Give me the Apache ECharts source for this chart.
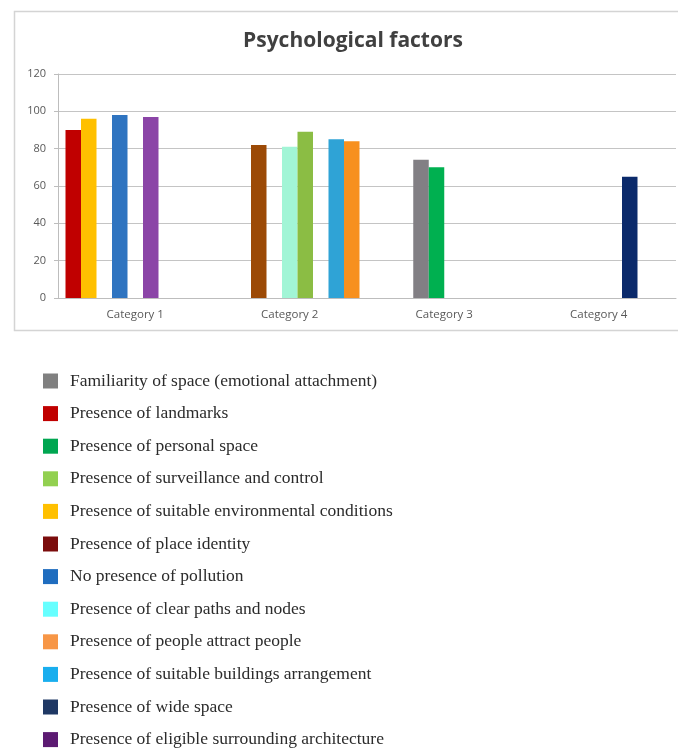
<!DOCTYPE html>
<html>
<head>
<meta charset="utf-8">
<title>Psychological factors</title>
<script src="https://cdn.jsdelivr.net/npm/echarts@6/dist/echarts.min.js"></script>
<style>
  html, body { margin: 0; padding: 0; background: #ffffff; }
  #chart { width: 678px; height: 749px; }
</style>
</head>
<body>
<div id="chart"></div>
<script>
// ---- data ----
const categories = ['Category 1', 'Category 2', 'Category 3', 'Category 4'];

const factors = [
  'Familiarity of space (emotional attachment)',
  'Presence of landmarks',
  'Presence of personal space',
  'Presence of surveillance and control',
  'Presence of suitable environmental conditions',
  'Presence of place identity',
  'No presence of pollution',
  'Presence of clear paths and nodes',
  'Presence of people attract people',
  'Presence of suitable buildings arrangement',
  'Presence of wide space',
  'Presence of eligible surrounding architecture'
];

// score of each factor, and the category it is reported under (index into categories)
const factorValues   = [74, 90, 70, 89, 96, 82, 98, 81, 84, 85, 65, 97];
const factorCategory = [ 2,  0,  2,  1,  0,  1,  0,  1,  1,  1,  3,  0];

const yTicks = [0, 20, 40, 60, 80, 100, 120];

// ---- styling ----
const barColors = [
  '#827f84', '#c00000', '#00b050', '#8bbd44', '#ffc000', '#9c4a06',
  '#2f74c0', '#a2f5d6', '#f7901e', '#2fa3d6', '#0b2a6b', '#8b45a7'
];
const swatchColors = [
  '#808080', '#c00000', '#00a651', '#92d050', '#ffc000', '#7b0c0c',
  '#1f6dbf', '#66ffff', '#f79646', '#19aeee', '#1f3864', '#5c1a72'
];

// Each category group is split into 17 half-step columns (bars overlap their
// neighbours by half a width, so only every other column can be filled at once).
const COLUMNS = 17;
const BAR_WIDTH = 15.5;
const column = [5, 0, 7, 10, 2, 4, 6, 8, 16, 14, 12, 10];

const series = [];
for (let k = 0; k < COLUMNS; k++) {
  const members = factors.map((_, i) => i).filter(i => column[i] === k);
  if (members.length === 0) {
    // empty column keeps the spacing of the group
    series.push({
      name: '_col' + k, type: 'bar', stack: 'col' + k, silent: true,
      barWidth: BAR_WIDTH, barGap: '-50%',
      data: categories.map(() => '-')
    });
  }
  members.forEach(i => {
    series.push({
      name: factors[i],
      type: 'bar',
      stack: 'col' + k,
      barWidth: BAR_WIDTH,
      barGap: '-50%',
      itemStyle: { color: barColors[i] },
      data: categories.map((_, c) => (c === factorCategory[i] ? factorValues[i] : '-'))
    });
  });
}

const chart = echarts.init(document.getElementById('chart'), null, { renderer: 'canvas' });

chart.setOption({
  animation: false,
  backgroundColor: '#ffffff',
  title: {
    text: 'Psychological factors',
    left: 353,
    top: 31,
    padding: 0,
    textAlign: 'center',
    textStyle: {
      fontFamily: 'Open Sans',
      fontWeight: 'bold',
      fontSize: 21,
      color: '#404040'
    }
  },
  graphic: [{
    type: 'rect',
    silent: true,
    z: -1,
    shape: { x: 14.5, y: 11.5, width: 720, height: 319 },
    style: { fill: 'none', stroke: '#d4d4d4', lineWidth: 1.5 }
  }],
  grid: { left: 58, right: 2, top: 74, bottom: 451, containLabel: false },
  xAxis: {
    type: 'category',
    data: categories,
    axisLine: { show: true, lineStyle: { color: '#bdbdbd', width: 1 } },
    axisTick: { show: false },
    axisLabel: {
      margin: 11,
      fontFamily: 'Open Sans',
      fontSize: 11.5,
      color: '#595959'
    }
  },
  yAxis: {
    type: 'value',
    min: yTicks[0],
    max: yTicks[yTicks.length - 1],
    interval: yTicks[1] - yTicks[0],
    axisLine: { show: true, lineStyle: { color: '#bdbdbd', width: 1 } },
    axisTick: { show: true, length: 4, lineStyle: { color: '#bdbdbd' } },
    splitLine: { show: true, lineStyle: { color: '#c4c4c4', width: 1 } },
    axisLabel: {
      margin: 12,
      fontFamily: 'Open Sans',
      fontSize: 11,
      color: '#595959'
    }
  },
  legend: {
    orient: 'vertical',
    left: 38,
    top: 367,
    height: 400,
    itemWidth: 15,
    itemHeight: 15,
    itemGap: 14.6,
    icon: 'rect',
    selectedMode: false,
    data: factors.map((name, i) => ({ name, itemStyle: { color: swatchColors[i] } })),
    textStyle: {
      fontFamily: 'Liberation Serif',
      fontSize: 17.5,
      lineHeight: 15,
      color: '#2b2b2b',
      padding: [0, 0, 0, 7]
    }
  },
  series: series
});
</script>
</body>
</html>
